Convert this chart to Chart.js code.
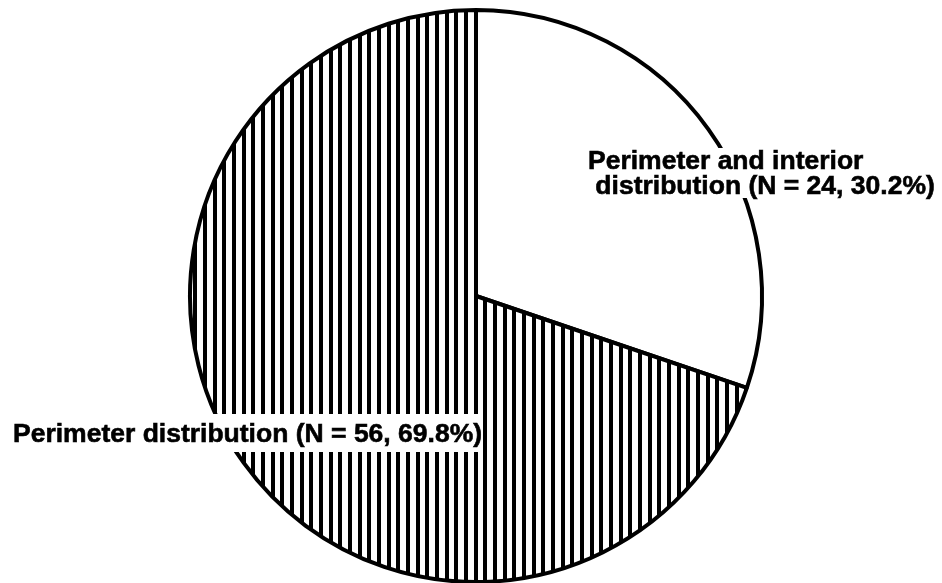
<!DOCTYPE html>
<html>
<head>
<meta charset="utf-8">
<script src="https://cdn.jsdelivr.net/npm/chart.js@4.4.1/dist/chart.umd.min.js"></script>
<style>
    html, body { margin: 0; padding: 0; background: #fff; }
    #wrap { position: relative; width: 942px; height: 583px; overflow: hidden; }
    .pieLabel {
        position: absolute;
        background: #fff;
        color: #000;
        font-family: "Liberation Sans", Arial, sans-serif;
        font-weight: bold;
        font-size: 26.5px;
        -webkit-text-stroke: 0.6px #000;
        white-space: pre;
    }
</style>
</head>
<body>
<div id="wrap">
    <canvas id="pieChart" width="942" height="583"></canvas>
</div>
<script>
// Datos del grafico
const categories = ['Perimeter and interior\n distribution', 'Perimeter distribution'];
const counts = [24, 56];
const percents = [30.2, 69.8];

// Posiciones de las etiquetas (solo diseño)
const labelBoxes = [
    { left: 588, top: 148, lineHeight: 25 },
    { left: 13, top: 414, lineHeight: 38 }
];

// Patron de rayas verticales
function makeStripes() {
    const tile = document.createElement('canvas');
    tile.width = 29;
    tile.height = 10;
    const c = tile.getContext('2d');
    c.fillStyle = '#fff';
    c.fillRect(0, 0, 29, 10);
    c.fillStyle = '#000';
    [0, 10, 19].forEach(function (x) { c.fillRect(x, 0, 4, 10); });
    return c.createPattern(tile, 'repeat');
}

document.addEventListener('DOMContentLoaded', function () {
    const ctx = document.getElementById('pieChart');
    const stripes = makeStripes();

    new Chart(ctx, {
        type: 'pie',
        data: {
            labels: categories,
            datasets: [{
                data: percents,
                backgroundColor: ['#ffffff', stripes],
                borderColor: '#000000',
                borderWidth: 4
            }]
        },
        options: {
            responsive: false,
            animation: false,
            radius: 286,
            layout: { padding: { left: 10, right: 0, top: 9, bottom: 0 } },
            plugins: {
                legend: { display: false },
                tooltip: { enabled: false }
            }
        }
    });

    // Etiquetas como texto real
    const wrap = document.getElementById('wrap');
    categories.forEach(function (cat, i) {
        const div = document.createElement('div');
        div.className = 'pieLabel';
        div.style.left = labelBoxes[i].left + 'px';
        div.style.top = labelBoxes[i].top + 'px';
        div.style.lineHeight = labelBoxes[i].lineHeight + 'px';
        div.textContent = `${cat} (N = ${counts[i]}, ${percents[i]}%)`;
        wrap.appendChild(div);
    });
});
</script>
</body>
</html>
